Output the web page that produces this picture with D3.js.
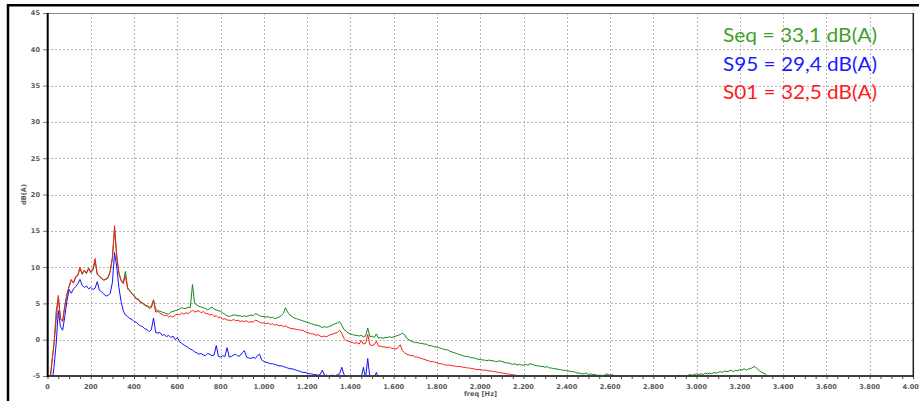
<!DOCTYPE html>
<html><head><meta charset="utf-8">
<script src="https://cdn.jsdelivr.net/npm/d3@7"></script>
<style>body{margin:0;background:#fff}svg{display:block}</style>
</head><body>
<svg id="c" width="919" height="401"></svg>
<script>
// ---- data (dB(A) per 10 Hz bin, starting at 0 Hz) ----
const freqStep = 10;
const seqValues = [
-6,-6,-3.2,-0.6,3.9,5.8,2.9,2.6,4.6,6.2,
7.3,8.2,7.8,8.6,8.8,9.8,9.0,9.5,9.1,9.8,
9.2,9.6,10.8,9.0,8.7,8.4,8.2,8.3,8.5,9.4,
11.2,15.2,11.4,9.2,8.2,7.9,9.4,7.2,6.8,6.4,
6.1,5.7,5.6,5.2,5.1,4.8,4.7,4.5,4.6,5.5,
4.2,4.0,3.9,3.8,3.7,3.6,3.5,3.8,3.9,4.0,
4.1,4.2,4.4,4.3,4.3,4.5,4.4,7.6,5.0,4.8,
4.6,4.5,4.4,4.3,4.1,4.3,4.5,4.2,4.1,4.0,
3.9,3.7,3.5,3.3,3.2,3.3,3.4,3.4,3.3,3.3,
3.2,3.3,3.2,3.3,3.4,3.3,3.6,3.5,3.3,3.2,
3.2,3.1,3.2,3.0,3.1,2.9,3.0,3.1,3.3,3.6,
4.4,3.8,3.4,3.2,3.0,2.9,2.8,2.7,2.6,2.5,
2.4,2.3,2.2,2.1,2.0,2.0,1.8,1.7,1.8,1.7,
1.8,1.9,2.1,2.2,2.3,2.5,2.0,1.4,1.2,0.9,
0.8,0.7,0.6,0.6,0.5,0.6,0.4,0.5,1.6,0.4,
0.5,0.3,0.8,0.2,0.3,0.2,0.3,0.3,0.4,0.3,
0.4,0.5,0.6,0.7,0.9,0.7,0.2,0.0,-0.2,-0.3,
-0.4,-0.4,-0.5,-0.5,-0.6,-0.6,-0.8,-0.8,-0.9,-1.0,
-1.0,-1.1,-1.2,-1.3,-1.4,-1.4,-1.6,-1.7,-1.8,-1.9,
-2.0,-2.1,-2.2,-2.3,-2.3,-2.4,-2.5,-2.5,-2.6,-2.7,
-2.7,-2.8,-2.8,-2.9,-2.8,-2.9,-2.9,-3.0,-3.0,-2.9,
-3.0,-3.1,-3.2,-3.2,-3.3,-3.4,-3.3,-3.5,-3.4,-3.5,
-3.5,-3.4,-3.5,-3.3,-3.4,-3.5,-3.6,-3.6,-3.7,-3.7,
-3.8,-3.7,-3.9,-3.9,-4.0,-4.0,-4.1,-4.1,-4.2,-4.2,
-4.3,-4.3,-4.4,-4.4,-4.5,-4.6,-4.6,-4.7,-4.7,-4.6,
-4.8,-4.7,-4.8,-4.8,-4.9,-4.9,-4.9,-5.0,-4.7,-4.8,
-4.9,-4.8,-5.0,-5.1,-5.1,-5.2,-5.3,-5.3,-5.2,-5.3,
-4.9,-5.3,-5.0,-5.3,-5.3,-5.3,-4.9,-5.2,-5.3,-5.3,
-5.3,-5.3,-5.3,-5.3,-5.3,-5.3,-5.3,-5.3,-5.3,-5.3,
-5.2,-5.1,-4.9,-5.0,-4.9,-5.0,-4.9,-4.8,-4.9,-4.8,
-4.7,-4.8,-4.7,-4.8,-4.6,-4.7,-4.6,-4.7,-4.5,-4.6,
-4.5,-4.4,-4.5,-4.3,-4.4,-4.3,-4.2,-4.4,-4.2,-4.3,
-4.1,-4.2,-4.0,-4.2,-4.0,-4.0,-3.8,-3.7,-4.0,-4.3,
-4.5,-4.6,-4.8,-5.2,-5.5
];
const s01Values = [
-6,-6,-3.2,-0.6,2.6,6.1,2.9,2.5,4.7,6.3,
7.4,8.3,7.8,8.7,8.9,10.0,9.1,9.6,9.2,9.9,
9.3,9.7,11.2,9.0,8.8,8.5,8.2,8.4,8.6,9.5,
11.4,15.7,11.6,9.2,8.1,7.7,8.8,7.0,6.7,6.3,
6.0,5.6,5.5,5.1,5.0,4.7,4.6,4.3,4.4,5.4,
3.8,3.9,3.6,3.5,3.3,3.4,3.1,3.3,3.1,3.4,
3.5,3.4,3.7,3.5,3.7,3.6,3.8,4.1,3.8,3.9,
4.0,3.7,3.9,3.6,3.6,3.4,3.5,3.2,3.3,3.0,
3.1,2.8,2.9,2.7,2.7,2.6,2.8,2.6,2.7,2.5,
2.6,2.5,2.6,2.4,2.5,2.4,2.7,2.6,2.4,2.3,
2.3,2.2,2.3,2.1,2.2,2.0,2.1,1.9,2.0,1.8,
1.9,1.7,1.6,1.5,1.5,1.4,1.4,1.3,1.3,1.1,
1.0,0.9,0.8,0.8,0.6,0.7,0.5,0.4,0.5,0.4,
0.6,0.7,0.8,0.9,1.0,1.3,0.9,0.2,-0.1,-0.2,
-0.3,-0.4,-0.5,-0.4,-0.6,-0.1,-0.6,-0.5,0.7,-0.7,
-0.8,-0.7,-0.2,-0.9,-0.9,-1.0,-1.0,-1.1,-1.0,-1.2,
-1.2,-1.3,-1.1,-0.7,-1.5,-1.8,-2.0,-2.1,-2.2,-2.2,
-2.4,-2.4,-2.5,-2.6,-2.7,-2.8,-2.9,-3.0,-3.0,-3.1,
-3.2,-3.3,-3.3,-3.4,-3.5,-3.5,-3.5,-3.6,-3.6,-3.7,
-3.7,-3.7,-3.8,-3.8,-3.9,-3.9,-4.0,-4.0,-4.1,-4.1,
-4.1,-4.2,-4.2,-4.2,-4.3,-4.3,-4.4,-4.4,-4.5,-4.5,
-4.6,-4.6,-4.7,-4.7,-4.8,-4.8,-4.9,-4.9,-5.0,-5.2,
-5.4
];
const s95Values = [
-6,-6,-6,-3.8,-0.6,4.0,1.8,1.3,3.2,5.4,
6.9,6.4,7.0,7.3,7.7,8.3,7.5,7.2,7.4,7.0,
7.2,6.9,7.1,8.0,6.8,6.6,6.3,6.0,6.1,6.4,
7.9,12.0,10.0,7.2,5.3,4.0,3.4,3.2,2.9,2.8,
2.5,2.4,2.1,1.9,1.8,1.5,1.4,1.1,1.4,3.0,
1.0,0.9,1.0,0.6,0.7,0.4,0.6,0.3,0.5,0.0,
0.3,-0.3,-0.5,-0.7,-0.9,-1.1,-1.3,-1.4,-1.7,-1.8,
-2.0,-1.9,-2.1,-2.2,-1.9,-2.0,-2.2,-2.1,-0.8,-2.3,
-2.4,-2.2,-2.3,-1.1,-2.4,-2.3,-2.1,-2.0,-2.3,-2.2,
-1.8,-1.5,-2.4,-2.5,-2.6,-2.4,-2.6,-2.2,-2.0,-2.8,
-3.0,-3.1,-3.2,-3.3,-3.3,-3.4,-3.5,-3.6,-3.6,-3.7,
-3.8,-3.9,-4.0,-4.0,-4.1,-4.2,-4.3,-4.4,-4.5,-4.5,
-4.6,-4.7,-4.7,-4.8,-4.8,-4.9,-4.8,-4.2,-4.9,-4.9,
-5.0,-4.9,-4.9,-5.0,-4.8,-4.7,-3.8,-4.8,-5.0,-5.2,
-5.3,-5.3,-5.3,-5.3,-5.3,-5.2,-3.8,-5.3,-2.6,-5.3,
-5.3,-5.3,-4.5,-5.3,-5.5
];
const xTicks = [0,200,400,600,800,1000,1200,1400,1600,1800,2000,2200,2400,2600,2800,3000,3200,3400,3600,3800,4000];
const yTicks = [-5,0,5,10,15,20,25,30,35,40,45];
const legendLabels = ["Seq = 33,1 dB(A)", "S95 = 29,4 dB(A)", "S01 = 32,5 dB(A)"];
const xLabel = "freq [Hz]";
const yLabel = "dB(A)";

// ---- drawing ----
const svg = d3.select("#c");
svg.append("rect").attr("width",919).attr("height",401).attr("fill","#fff");

const x = d3.scaleLinear().domain([0,4000]).range([47.5,913]);
const y = d3.scaleLinear().domain([-5,45]).range([376,13]);
const loc = d3.formatLocale({decimal:",", thousands:".", grouping:[3], currency:["",""]});
const fmt = loc.format(",d");

// outer frame
svg.append("line").attr("x1",8).attr("x2",919).attr("y1",5.2).attr("y2",5.2).attr("stroke","#000").attr("stroke-width",2.5);
svg.append("line").attr("x1",8).attr("x2",8).attr("y1",4).attr("y2",401).attr("stroke","#000").attr("stroke-width",2.5);

// grid
const grid = svg.append("g").attr("stroke","#b4b4b4").attr("stroke-width",1).attr("stroke-dasharray","2,2");
grid.selectAll(".gx").data(xTicks.slice(1,-1)).join("line")
  .attr("x1",d=>Math.round(x(d))+0.5).attr("x2",d=>Math.round(x(d))+0.5).attr("y1",13).attr("y2",376);
grid.selectAll(".gy").data(yTicks.slice(1,-1)).join("line")
  .attr("y1",d=>Math.round(y(d))+0.5).attr("y2",d=>Math.round(y(d))+0.5).attr("x1",47).attr("x2",913);

// top plot border
svg.append("line").attr("x1",47).attr("x2",913).attr("y1",13.5).attr("y2",13.5).attr("stroke","#8a8a8a");

// clip
svg.append("clipPath").attr("id","pc").append("rect").attr("x",48).attr("y",13).attr("width",865).attr("height",363);

const line = d3.line().x((d,i)=>x(i*freqStep)).y(d=>y(d));
const series = [
  {vals:seqValues, color:"#12891a"},
  {vals:s01Values, color:"#ff1a1a"},
  {vals:s95Values, color:"#1010ff"}
];
const lg = svg.append("g").attr("clip-path","url(#pc)");
series.forEach(s=>{
  lg.append("path").attr("d",line(s.vals)).attr("fill","none").attr("stroke",s.color).attr("stroke-width",1).attr("stroke-linejoin","round");
});

// x axis
const xAxis = d3.axisBottom(x).tickValues(d3.range(0,4001,50)).tickSize(3).tickFormat("");
const gx = svg.append("g").attr("transform","translate(0,376)").call(xAxis);
gx.select(".domain").remove();
gx.selectAll(".tick line").attr("stroke","#444");
svg.append("line").attr("x1",47).attr("x2",913).attr("y1",376).attr("y2",376).attr("stroke","#404040").attr("stroke-width",2);
svg.append("g").selectAll("text").data(xTicks).join("text")
  .attr("x",d=>x(d)).attr("y",388.5).attr("text-anchor","middle")
  .attr("font-family","DejaVu Sans").attr("font-size",6.6).attr("fill","#5a5a5a").attr("font-weight","bold")
  .text(d=>fmt(d));
svg.append("text").attr("x",480.5).attr("y",395.5).attr("text-anchor","middle")
  .attr("font-family","DejaVu Sans").attr("font-size",6.6).attr("fill","#5a5a5a").attr("font-weight","bold").text(xLabel);

// y axis
const yAxis = d3.axisLeft(y).tickValues(yTicks).tickSize(4).tickFormat("");
const gy = svg.append("g").attr("transform","translate(47,0)").call(yAxis);
gy.select(".domain").remove();
gy.selectAll(".tick line").attr("stroke","#777");
svg.append("g").selectAll("text").data(yTicks).join("text")
  .attr("x",40).attr("y",d=>y(d)+2.4).attr("text-anchor","end")
  .attr("font-family","DejaVu Sans").attr("font-size",6.6).attr("fill","#5a5a5a").attr("font-weight","bold")
  .text(d=>d);
svg.append("text").attr("transform","translate(25.5,194.5) rotate(-90)").attr("text-anchor","middle")
  .attr("font-family","DejaVu Sans").attr("font-size",6.6).attr("fill","#5a5a5a").attr("font-weight","bold").text(yLabel);
svg.append("line").attr("x1",47.7).attr("x2",47.7).attr("y1",13).attr("y2",377).attr("stroke","#000").attr("stroke-width",2);
svg.append("line").attr("x1",913.3).attr("x2",913.3).attr("y1",13).attr("y2",377).attr("stroke","#222").attr("stroke-width",1.5);

// legend text
const legendColors = ["#3f9f2b","#1a1aff","#ff1a1a"];
svg.append("g").selectAll("text").data(legendLabels).join("text")
  .attr("x",723).attr("y",(d,i)=>42.3+i*28.2)
  .attr("font-family","Lato, 'Open Sans', sans-serif").attr("font-size",19.5)
  .attr("fill",(d,i)=>legendColors[i])
  .attr("textLength",154).attr("lengthAdjust","spacingAndGlyphs")
  .text(d=>d);
</script>
</body></html>
